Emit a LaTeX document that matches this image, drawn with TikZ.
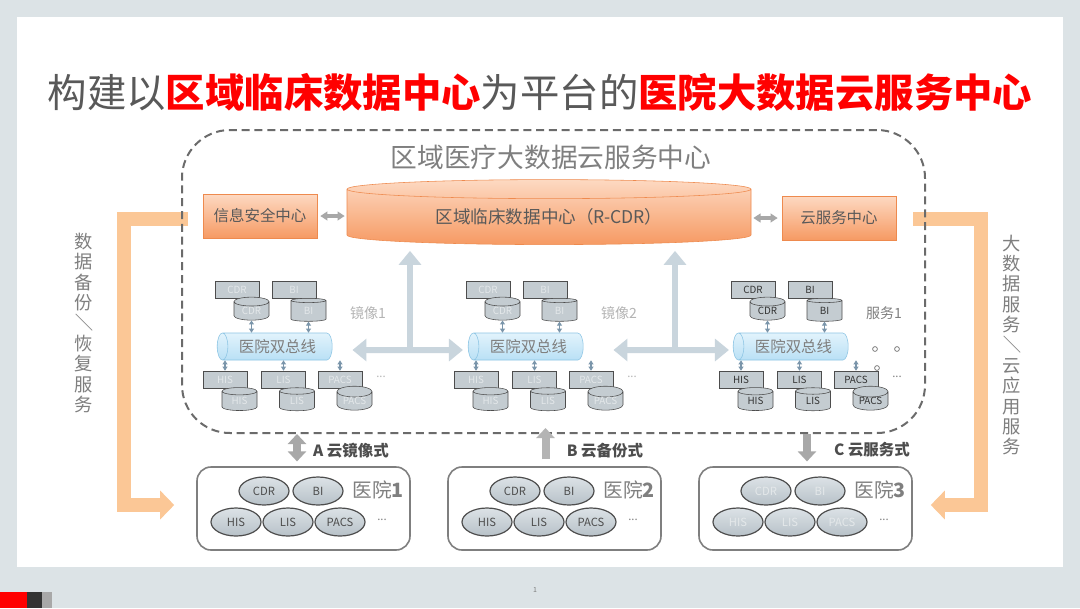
\documentclass[tikz,border=0pt]{standalone}
\usepackage{fontspec}
\setmainfont{Noto Sans CJK SC}
\usetikzlibrary{shapes.geometric,arrows.meta}

\definecolor{slidebg}{HTML}{DCE3E6}
\definecolor{titlegray}{HTML}{595959}
\definecolor{txtgray}{HTML}{7F7F7F}
\definecolor{dashgray}{HTML}{6B6B6B}
\definecolor{orgtop}{HTML}{FDD9C2}
\definecolor{orgbot}{HTML}{F69A63}
\definecolor{orgline}{HTML}{EE8A4E}
\definecolor{orgbar}{HTML}{FBC796}
\definecolor{midgray}{HTML}{A8A8A8}
\definecolor{palegray}{HTML}{B4B4B4}
\definecolor{mirblue}{HTML}{C9D5DD}
\definecolor{bustop}{HTML}{E2F3FC}
\definecolor{busbot}{HTML}{B9E0F5}
\definecolor{busline}{HTML}{8DC5E4}
\definecolor{dbfill}{HTML}{C4CCD1}
\definecolor{dbline}{HTML}{4D4D4D}
\definecolor{dblight}{HTML}{E4E8EA}
\definecolor{dbdark}{HTML}{333333}
\definecolor{steel}{HTML}{7A95AA}
\definecolor{elltop}{HTML}{DCE2E6}
\definecolor{ellbot}{HTML}{B7C1C8}

\newcommand{\pxu}{0.025cm}
\newcommand{\fsz}[1]{\fontsize{#1}{#1}\selectfont}

\tikzset{
  mirtip/.tip={Triangle[length=0.35cm,width=0.55cm]},
  graytip/.tip={Triangle[length=0.25cm,width=0.45cm]},
  smgtip/.tip={Triangle[length=0.18cm,width=0.22cm]},
  steeltip/.tip={Triangle[length=0.1cm,width=0.12cm]},
  orgbox/.style={draw=orgline, top color=orgtop, bottom color=orgbot, minimum width=114*\pxu, minimum height=44*\pxu, inner sep=0pt, text=titlegray, font=\fsz{11pt}},
  orgcyl/.style={cylinder, shape border rotate=90, aspect=0.084, draw=orgline, top color=orgtop, bottom color=orgbot, minimum width=404*\pxu, minimum height=65*\pxu, inner sep=0pt, text=titlegray, font=\fsz{12.5pt}},
  dbrect/.style={draw=dbline, fill=dbfill, minimum width=44*\pxu, minimum height=17*\pxu, inner sep=0pt, font=\fsz{7pt}},
  dbcyl/.style={cylinder, shape border rotate=90, aspect=0.46, draw=dbline, fill=dbfill, minimum width=35*\pxu, minimum height=23*\pxu, inner sep=0pt, font=\fsz{7pt}},
  bus/.style={cylinder, shape border rotate=180, aspect=0.74, draw=busline, top color=bustop, bottom color=busbot, minimum width=27*\pxu, minimum height=115*\pxu, inner sep=0pt, text=txtgray, font=\fsz{11pt}},
  hosp/.style={draw=txtgray, line width=0.04cm, rounded corners=0.35cm, minimum width=213*\pxu, minimum height=83*\pxu},
  hell/.style={ellipse, draw=dbline, line width=0.03cm, top color=elltop, bottom color=ellbot, minimum width=50*\pxu, minimum height=28*\pxu, inner sep=0pt, font=\fsz{8pt}},
  cloudbox/.style={draw=dashgray, line width=0.05cm, dash pattern=on 0.2cm off 0.12cm, rounded corners=1.2cm, minimum width=743*\pxu, minimum height=303*\pxu},
  smarrow/.style={draw=steel, line width=0.03cm, steeltip-steeltip},
  mirarrow/.style={draw=mirblue, line width=0.15cm},
  grayarrow/.style={draw=midgray, line width=0.2cm},
  obar/.style={draw=orgbar, line width=0.35cm, -{Triangle[length=0.35cm,width=0.7cm]}},
  modetxt/.style={text=dbline, font=\bfseries\fsz{11pt}},
  vtxt/.style={align=center, text=txtgray, font=\fontsize{13pt}{14.5pt}\selectfont}
}

\begin{document}
\begin{tikzpicture}[x=0.025cm, y=-0.025cm]
    \useasboundingbox (0,0) rectangle (1080,608);
    % slide
    \fill [slidebg] (0,0) rectangle (1080,608);
    \fill [white] (17,17) rectangle (1063,567);
    \fill [red] (0,592) rectangle (27,608);
    \fill [dbdark] (27,592) rectangle (42,608);
    \fill [midgray] (42,592) rectangle (52,608);
    \node [text=txtgray, font=\fsz{5pt}] (pgno) at (535,590) {1};
    \node [font=\fsz{28pt}] (title) at (540,92) {\textcolor{titlegray}{构建以}\textcolor{red}{\bfseries 区域临床数据中心}\textcolor{titlegray}{为平台的}\textcolor{red}{\bfseries 医院大数据云服务中心}};

    % cloud centre
    \node [orgbox] (secbox) at (260,216) {信息安全中心};
    \node [orgcyl] (rcdr) at (549,217) {区域临床数据中心（R-CDR）};
    \node [orgbox] (cldbox) at (839,218) {云服务中心};
    \node [text=txtgray, font=\fsz{19pt}] (cloudttl) at (551,157) {区域医疗大数据云服务中心};

    % hospital clusters in the cloud
    \foreach \o/\k/\lbl/\tc/\lc in {0/1/镜像1/dblight/palegray, 251/2/镜像2/dblight/palegray, 516/3/服务1/dbdark/txtgray} {
        \begin{scope}[xshift=\o*\pxu]
            \node [dbrect, text=\tc] (cdrr\k) at (237,289.5) {CDR};
            \node [dbrect, text=\tc] (bir\k) at (294,289.5) {BI};
            \node [dbcyl, text=\tc] (cdrc\k) at (251.5,311) {CDR};
            \node [dbcyl, text=\tc] (bic\k) at (308.5,311) {BI};
            \node [bus] (bus\k) at (277.5,346.5) {医院双总线};
            \node [dbrect, text=\tc] (hisr\k) at (225,379.5) {HIS};
            \node [dbrect, text=\tc] (lisr\k) at (283.5,379.5) {LIS};
            \node [dbrect, text=\tc] (pacsr\k) at (340,379.5) {PACS};
            \node [dbcyl, text=\tc] (hisc\k) at (239.5,401) {HIS};
            \node [dbcyl, text=\tc] (lisc\k) at (297,401) {LIS};
            \node [dbcyl, text=\tc] (pacsc\k) at (354.5,401) {PACS};
            \node [text=\lc, font=\fsz{8pt}] (more\k) at (381,377) {...};
            \node [text=\lc, font=\fsz{10pt}] (mir\k) at (368,313) {\lbl};
            \draw [smarrow] (cdrc\k.south) -- (cdrc\k.south |- bus\k.north);
            \draw [smarrow] (bic\k.south) -- (bic\k.south |- bus\k.north);
            \draw [smarrow] (hisr\k.north) -- (hisr\k.north |- bus\k.south);
            \draw [smarrow] (lisr\k.north) -- (lisr\k.north |- bus\k.south);
            \draw [smarrow] (pacsr\k.north) -- (pacsr\k.north |- bus\k.south);
        \end{scope}
    }
    \draw [txtgray, line width=0.02cm] (875,349) circle [radius=0.06cm];
    \draw [txtgray, line width=0.02cm] (897,349) circle [radius=0.06cm];
    \draw [txtgray, line width=0.02cm] (877,368) circle [radius=0.06cm];

    % hospitals
    \foreach \o/\k/\tc in {0/1/dbline, 251/2/dbline, 502/3/dblight} {
        \begin{scope}[xshift=\o*\pxu]
            \node [hosp] (h\k) at (303.5,508.5) {};
            \node [hell, text=\tc] (hcdr\k) at (264,491) {CDR};
            \node [hell, text=\tc] (hbi\k) at (318,491) {BI};
            \node [hell, text=\tc] (hhis\k) at (236,522) {HIS};
            \node [hell, text=\tc] (hlis\k) at (288,522) {LIS};
            \node [hell, text=\tc] (hpacs\k) at (340,522) {PACS};
            \node [text=txtgray, font=\fsz{8pt}] (hmore\k) at (382,520) {...};
            \node [text=txtgray, font=\fsz{14pt}] (hname\k) at (378,490) {医院\textbf{\k}};
        \end{scope}
    }

    % side services
    \draw [obar] ([xshift=-15*\pxu, yshift=-2.5*\pxu]secbox.west) -| ([xshift=-72.5*\pxu, yshift=3.5*\pxu]h1.west) -- ([xshift=-22*\pxu, yshift=3.5*\pxu]h1.west);
    \draw [obar] ([xshift=17*\pxu, yshift=-0.5*\pxu]cldbox.east) -| ([xshift=68*\pxu, yshift=3.5*\pxu]h3.east) -- ([xshift=18*\pxu, yshift=3.5*\pxu]h3.east);
    \node [vtxt] (lefttxt) at (84,323) {数\\据\\备\\份\\\rotatebox[origin=c]{-90}{／}\\恢\\复\\服\\务};
    \node [vtxt] (righttxt) at (1012,345) {大\\数\\据\\服\\务\\\rotatebox[origin=c]{-90}{／}\\云\\应\\用\\服\\务};

    \node [cloudbox] (cloud) at (553.5,281.5) {};

    % arrows
    \draw [grayarrow, line width=0.09cm, smgtip-smgtip, shorten <=0.075cm, shorten >=0.05cm] (secbox.east) -- (secbox.east -| rcdr.west);
    \draw [grayarrow, line width=0.09cm, smgtip-smgtip, shorten <=0.1cm, shorten >=0.05cm] (cldbox.west) -- (cldbox.west -| rcdr.east);
    \draw [mirarrow, mirtip-mirtip, shorten <=0.5cm, shorten >=0.125cm] ([yshift=-3.5*\pxu]bus1.east) -- ([yshift=-3.5*\pxu]bus2.west);
    \draw [mirarrow, mirtip-mirtip, shorten <=0.75cm, shorten >=0.1cm] ([yshift=-3.5*\pxu]bus2.east) -- ([yshift=-3.5*\pxu]bus3.west);
    \coordinate (j1) at (410,350);
    \coordinate (j2) at (675,350);
    \draw [mirarrow, -mirtip, shorten >=0.15cm] (j1) -- (j1 |- rcdr.south);
    \draw [mirarrow, -mirtip, shorten >=0.15cm] (j2) -- (j2 |- rcdr.south);

    \coordinate (a1) at ([xshift=-6.5*\pxu]h1.north);
    \coordinate (b1) at ([xshift=-9*\pxu]h2.north);
    \coordinate (c1) at ([xshift=1.5*\pxu]h3.north);
    \draw [grayarrow, graytip-graytip, shorten <=0.12cm] (a1) -- (a1 |- cloud.south);
    \draw [grayarrow, draw=palegray, -graytip, shorten <=0.18cm, shorten >=-0.15cm] (b1) -- (b1 |- cloud.south);
    \draw [grayarrow, -graytip, shorten >=0.12cm] (c1 |- cloud.south) -- (c1);
    \node [modetxt] (moda) at (351,451) {A 云镜像式};
    \node [modetxt] (modb) at (605,451) {B 云备份式};
    \node [modetxt] (modc) at (872,450) {C 云服务式};
\end{tikzpicture}
\end{document}
